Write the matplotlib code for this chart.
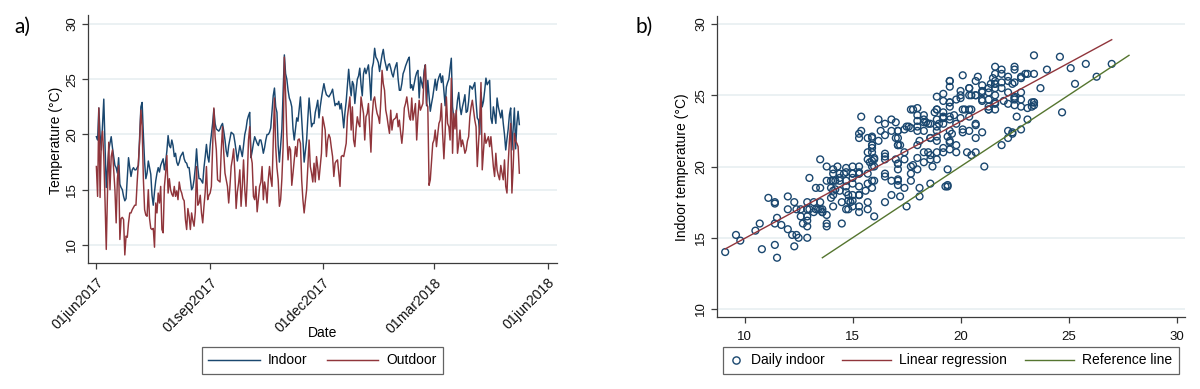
import numpy as np
import pandas as pd
import matplotlib
matplotlib.use("Agg")
import matplotlib.pyplot as plt
from matplotlib.lines import Line2D
from matplotlib.legend_handler import HandlerLine2D

# ---------------- data ----------------
start_date = "2017-06-01"

indoor = [
    19.8, 19.5, 22.4, 20.0, 18.6, 21.0, 23.2, 19.0, 15.2, 17.0,
    18.6, 19.2, 19.8, 18.8, 18.0, 17.2, 17.0, 16.5, 17.9, 15.5,
    15.2, 15.0, 14.4, 14.0, 14.2, 16.0, 17.9, 17.0, 16.2, 16.8,
    17.0, 16.8, 16.8, 17.0, 17.2, 19.8, 22.5, 22.9, 20.0, 17.5,
    16.0, 16.5, 17.6, 17.0, 16.4, 14.5, 13.6, 14.8, 15.8, 16.5,
    17.0, 16.6, 17.2, 17.5, 17.8, 16.8, 17.5, 18.5, 19.9, 19.0,
    18.8, 19.5, 19.0, 18.0, 18.3, 17.5, 17.2, 17.5, 18.0, 18.2,
    18.4, 17.8, 17.5, 17.4, 17.0, 17.0, 16.0, 15.0, 15.2, 15.9,
    17.0, 18.7, 17.0, 16.0, 16.0, 15.8, 15.6, 17.0, 18.0, 19.1,
    18.0, 17.5, 19.0, 20.0, 21.0, 22.3, 21.0, 20.5, 20.4, 20.3,
    20.5, 20.8, 21.0, 20.3, 19.5, 18.5, 18.0, 19.0, 19.6, 20.2,
    20.1, 20.0, 19.3, 18.5, 17.6, 18.3, 19.0, 18.5, 18.0, 19.0,
    20.0, 20.5, 21.3, 21.7, 22.0, 17.9, 18.5, 19.2, 19.8, 19.5,
    19.2, 19.0, 19.5, 19.5, 19.0, 18.3, 18.8, 19.5, 20.0, 20.0,
    20.2, 20.6, 22.0, 23.5, 24.2, 22.5, 22.0, 19.0, 17.5, 19.0,
    20.5, 24.0, 27.2, 25.5, 25.0, 24.0, 23.3, 23.0, 22.5, 20.5,
    19.5, 20.5, 21.5, 21.2, 22.3, 23.4, 21.5, 19.5, 17.5, 18.5,
    19.5, 21.5, 23.3, 22.0, 20.7, 21.0, 21.0, 22.0, 22.5, 23.1,
    21.5, 22.5, 23.3, 24.0, 24.6, 24.0, 23.6, 23.5, 23.4, 23.6,
    23.8, 24.1, 23.3, 22.6, 22.8, 22.7, 23.0, 22.3, 22.8, 21.8,
    20.6, 22.0, 23.0, 24.5, 25.9, 24.5, 23.5, 24.8, 24.5, 22.8,
    24.0, 25.0, 25.3, 26.0, 24.5, 23.5, 25.5, 26.0, 25.5, 25.9,
    26.3, 25.0, 23.1, 26.0, 26.5, 27.8, 27.0, 26.8, 26.5, 25.7,
    26.5, 27.2, 27.7, 26.8, 26.3, 25.8, 26.3, 26.4, 26.0, 25.5,
    25.2, 25.8, 26.2, 26.5, 25.0, 24.0, 24.0, 24.6, 25.5, 25.8,
    26.2, 26.5, 26.8, 27.0, 24.2, 24.5, 24.0, 24.6, 25.2, 25.6,
    25.8, 23.3, 25.2, 24.7, 24.2, 25.8, 26.3, 22.6, 24.9, 23.5,
    22.1, 22.8, 23.4, 24.2, 25.0, 24.0, 24.8, 25.2, 25.5, 24.7,
    25.3, 24.0, 22.6, 24.3, 24.7, 25.0, 26.0, 26.9, 22.5, 21.5,
    20.8, 22.0, 23.1, 23.8, 22.5, 21.8, 22.5, 23.0, 23.6, 22.0,
    22.1, 23.0, 24.4, 24.3, 24.1, 24.4, 24.7, 23.0, 21.5, 21.3,
    20.0, 23.8, 22.5, 23.0, 24.0, 25.1, 24.5, 24.7, 24.9, 21.5,
    21.0, 22.5, 21.8, 21.0, 23.3, 22.5, 22.0, 21.5, 22.2, 21.0,
    20.0, 18.6, 19.6, 20.5, 21.8, 22.4, 18.6, 20.5, 22.4, 18.7,
    21.0, 22.1, 20.9,
]

outdoor = [
    17.1, 14.4, 22.4, 14.3, 19.4, 20.3, 18.0, 14.0, 9.6, 14.8,
    19.3, 15.0, 18.0, 18.6, 16.8, 15.0, 12.0, 16.0, 17.2, 10.5,
    12.4, 12.5, 12.3, 9.1, 10.8, 10.7, 12.0, 12.9, 12.9, 13.2,
    13.4, 13.6, 13.6, 15.7, 17.5, 19.4, 22.2, 20.7, 16.0, 13.2,
    12.7, 12.6, 15.0, 12.4, 11.5, 11.4, 11.5, 9.8, 13.8, 12.9,
    14.7, 13.8, 15.3, 11.4, 11.1, 15.3, 16.5, 18.1, 14.7, 16.0,
    15.0, 14.6, 14.4, 15.3, 14.4, 14.9, 14.1, 15.7, 15.0, 14.7,
    14.2, 14.0, 12.3, 11.4, 13.3, 12.6, 11.4, 12.9, 12.2, 11.7,
    13.0, 17.1, 13.6, 13.8, 14.5, 12.9, 12.0, 13.5, 14.8, 17.1,
    14.1, 14.5, 14.7, 15.3, 18.9, 22.4, 19.8, 18.6, 15.9, 15.8,
    15.7, 18.6, 20.7, 18.3, 16.5, 15.9, 15.3, 13.8, 15.3, 17.1,
    17.8, 18.7, 16.5, 13.3, 14.8, 15.6, 16.8, 13.5, 15.3, 17.7,
    15.0, 13.5, 15.9, 19.5, 20.7, 18.1, 17.4, 14.4, 14.1, 15.3,
    13.0, 14.2, 15.3, 15.7, 17.1, 14.1, 15.7, 15.0, 13.8, 15.9,
    17.1, 16.0, 15.3, 19.2, 23.3, 18.9, 17.0, 15.9, 13.5, 14.1,
    16.0, 18.9, 27.0, 23.7, 20.0, 17.7, 18.9, 18.6, 15.4, 16.5,
    17.7, 18.9, 18.0, 19.5, 19.6, 19.2, 15.9, 14.1, 12.9, 14.0,
    15.0, 17.1, 19.5, 17.1, 16.5, 15.7, 17.4, 15.7, 18.0, 17.0,
    15.9, 17.1, 18.3, 21.6, 21.0, 20.4, 18.0, 19.5, 20.0, 19.7,
    18.8, 18.0, 16.2, 17.4, 17.6, 17.7, 16.5, 15.3, 18.0, 18.1,
    18.0, 18.6, 19.2, 21.6, 22.5, 23.4, 20.4, 22.5, 19.5, 18.9,
    20.5, 21.6, 21.0, 20.7, 23.4, 22.6, 21.9, 19.5, 21.6, 21.9,
    22.8, 20.5, 18.4, 21.6, 23.1, 23.4, 22.5, 21.9, 21.6, 21.0,
    23.0, 25.8, 24.6, 24.0, 22.2, 21.6, 20.8, 20.1, 22.2, 20.4,
    21.3, 21.4, 21.5, 21.9, 20.7, 21.3, 20.2, 19.2, 20.4, 22.4,
    22.8, 23.4, 22.5, 21.6, 21.3, 23.3, 21.3, 22.0, 22.8, 19.5,
    21.6, 23.1, 22.2, 22.5, 22.8, 25.3, 26.3, 22.8, 22.5, 15.4,
    15.9, 17.5, 19.2, 19.5, 20.4, 18.9, 20.0, 21.0, 21.3, 22.8,
    20.0, 17.8, 20.1, 23.4, 21.0, 20.7, 19.5, 25.1, 18.3, 21.9,
    20.5, 22.2, 18.3, 19.2, 20.4, 18.9, 19.5, 19.0, 18.3, 18.6,
    19.4, 19.8, 21.6, 22.5, 23.1, 22.2, 21.3, 20.7, 17.1, 19.2,
    21.1, 24.7, 16.8, 18.5, 20.1, 19.2, 19.5, 19.8, 18.9, 19.8,
    18.5, 17.1, 16.2, 18.3, 16.8, 16.3, 15.9, 17.2, 16.5, 15.9,
    17.7, 15.3, 14.7, 17.4, 19.5, 21.0, 14.7, 17.0, 20.1, 19.4,
    19.2, 18.9, 16.5,
]

date_ticks = ["2017-06-01", "2017-09-01", "2017-12-01", "2018-03-01", "2018-06-01"]
date_tick_labels = ["01jun2017", "01sep2017", "01dec2017", "01mar2018", "01jun2018"]
temp_ticks = [10, 15, 20, 25, 30]
outdoor_ticks = [10, 15, 20, 25, 30]

series_labels = ["Indoor", "Outdoor"]
scatter_labels = ["Daily indoor", "Linear regression", "Reference line"]
ylabel_a = "Temperature (°C)"
xlabel_a = "Date"
ylabel_b = "Indoor temperature (°C)"

# ---------------- style ----------------
NAVY = "#1a476f"
MAROON = "#90353b"
GREEN = "#55752f"
GRID = "#e6eef0"
AXIS = "#3c3c3c"

plt.rcParams["font.family"] = ["Liberation Sans", "DejaVu Sans"]

fig = plt.figure(figsize=(12, 3.89), dpi=100)
axL = fig.add_axes([0.0733, 0.3239, 0.3905, 0.6375])
axR = fig.add_axes([0.5973, 0.1843, 0.3905, 0.7753])


def style(ax):
    for s in ["top", "right"]:
        ax.spines[s].set_visible(False)
    for s in ["left", "bottom"]:
        ax.spines[s].set_color(AXIS)
        ax.spines[s].set_linewidth(0.9)
    ax.tick_params(axis="both", colors=AXIS, length=4, width=0.9,
                   labelsize=9.5, labelcolor="#111111")
    ax.tick_params(axis="y", pad=3)
    ax.grid(axis="y", color=GRID, lw=1.1)
    ax.set_axisbelow(True)


# ---------------- panel a ----------------
dates = pd.date_range(start_date, periods=len(indoor), freq="D")
axL.plot(dates, indoor, color=NAVY, lw=1.05, label=series_labels[0])
axL.plot(dates, outdoor, color=MAROON, lw=1.05, label=series_labels[1])

t0 = pd.Timestamp(start_date)
axL.set_xlim(t0 - pd.Timedelta(days=6.8), t0 + pd.Timedelta(days=372.1))
axL.set_ylim(8.37, 30.81)
style(axL)
axL.set_yticks(temp_ticks)
axL.set_yticklabels([str(t) for t in temp_ticks], rotation=90, va="center")
axL.set_xticks(pd.to_datetime(date_ticks))
axL.set_xticklabels(date_tick_labels, rotation=45, ha="right", va="top",
                    rotation_mode="anchor", fontsize=10.2)
axL.tick_params(axis="x", pad=5)
axL.set_ylabel(ylabel_a, fontsize=10)
axL.yaxis.set_label_coords(-0.069, 0.496)
axL.yaxis.label.set_va("center")
axL.set_xlabel(xlabel_a, fontsize=10)
axL.xaxis.set_label_coords(0.5005, -0.282)
axL.xaxis.label.set_va("center")

legL = axL.legend(loc="center", bbox_to_anchor=(0.2688, 0.0733),
                  bbox_transform=fig.transFigure, ncol=2, frameon=True,
                  fancybox=False, edgecolor=AXIS, fontsize=10,
                  handlelength=3.7, handletextpad=0.6, columnspacing=1.4,
                  borderpad=0.45, borderaxespad=0)
legL.get_frame().set_linewidth(0.9)

# ---------------- panel b ----------------
out_arr = np.asarray(outdoor)
in_arr = np.asarray(indoor)
slope, intercept = np.polyfit(out_arr, in_arr, 1)
fit_x = np.array([out_arr.min(), out_arr.max()])
ref_x = np.array([in_arr.min(), in_arr.max()])

axR.scatter(out_arr, in_arr, s=24, facecolors="none", edgecolors=NAVY,
            linewidths=1.0, zorder=2)
axR.plot(fit_x, intercept + slope * fit_x, color=MAROON, lw=1.0, zorder=3)
axR.plot(ref_x, ref_x, color=GREEN, lw=1.0, zorder=3)

axR.set_xlim(8.71, 30.41)
axR.set_ylim(9.42, 30.58)
style(axR)
axR.set_yticks(temp_ticks)
axR.set_yticklabels([str(t) for t in temp_ticks], rotation=90, va="center")
axR.set_xticks(outdoor_ticks)
axR.set_xticklabels([str(t) for t in outdoor_ticks])
axR.tick_params(axis="x", pad=6)
axR.set_ylabel(ylabel_b, fontsize=10)
axR.yaxis.set_label_coords(-0.074, 0.498)
axR.yaxis.label.set_va("center")


class NarrowMarker(HandlerLine2D):
    def legend_artist(self, legend, orig_handle, fontsize, handlebox):
        handlebox.width = 0.9 * fontsize
        return super().legend_artist(legend, orig_handle, fontsize, handlebox)


h_pts = Line2D([], [], ls="none", marker="o", markersize=5.2,
               markerfacecolor="none", markeredgecolor=NAVY, markeredgewidth=1.0)
h_fit = Line2D([], [], color=MAROON, lw=1.0)
h_ref = Line2D([], [], color=GREEN, lw=1.0)
legR = axR.legend([h_pts, h_fit, h_ref], scatter_labels, loc="center",
                  bbox_to_anchor=(0.7925, 0.0733), bbox_transform=fig.transFigure,
                  ncol=3, frameon=True, fancybox=False, edgecolor=AXIS,
                  fontsize=10, handlelength=3.5, handletextpad=0.6,
                  columnspacing=1.3, borderpad=0.45, borderaxespad=0,
                  numpoints=1, handler_map={h_pts: NarrowMarker(numpoints=1)})
legR.get_frame().set_linewidth(0.9)

# panel letters
fig.text(22 / 1200, 1 - 27 / 389, "a)", fontsize=15, family=["Lato", "DejaVu Sans"],
         ha="center", va="center")
fig.text(644 / 1200, 1 - 27 / 389, "b)", fontsize=15, family=["Lato", "DejaVu Sans"],
         ha="center", va="center")

fig.savefig("out.png", dpi=100)
